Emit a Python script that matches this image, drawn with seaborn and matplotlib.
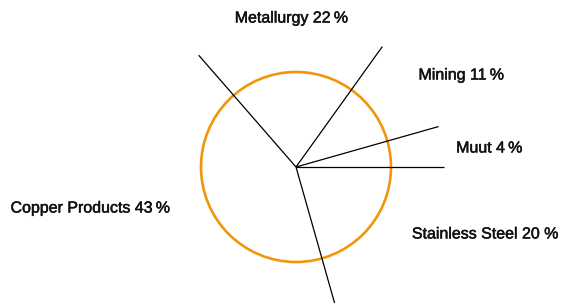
import numpy as np
import matplotlib
matplotlib.use("Agg")
import matplotlib.pyplot as plt
import matplotlib.patheffects as pe
from matplotlib.patches import Circle
import seaborn as sns

# segments, counter-clockwise from 3 o'clock
categories = ["Muut", "Mining", "Metallurgy", "Copper Products", "Stainless Steel"]
shares = [4.4, 10.7, 21.3, 43.0, 20.6]       # share used for the wedge geometry
share_labels = [4, 11, 22, 43, 20]           # rounded numbers printed in the labels
pct_gap = ["\u2009", "\u2009", "\u2009", "\u2009", " "]  # space before % as in source

sns.set_style("white")
plt.rcParams["font.family"] = ["Liberation Sans", "DejaVu Sans"]

fig = plt.figure(figsize=(5.61, 3.03), dpi=100)
ax = fig.add_axes([0, 0, 1, 1])

# 1 data unit = circle radius (95 px), centre at (296, 167) px
ax.set_xlim(-296 / 95, (561 - 296) / 95)
ax.set_ylim(-(303 - 167) / 95, 167 / 95)
ax.set_aspect("equal")
ax.axis("off")

# orange ring
ax.add_patch(Circle((0, 0), 1.0, fill=False, edgecolor="#F0960A", linewidth=1.9, zorder=1))

# black spokes on each wedge boundary, running past the ring
frac = np.array(shares) / np.sum(shares)
bounds = np.concatenate([[0], np.cumsum(frac)]) * 2 * np.pi
spoke_len = 1.56
for a in bounds[:-1]:
    ax.plot([0, spoke_len * np.cos(a)], [0, spoke_len * np.sin(a)],
            color="black", linewidth=0.9, zorder=2, solid_capstyle="butt")

# label placement (text centres, in radius units)
label_pos = {
    "Muut": (2.037, 0.20),
    "Mining": (1.742, 0.968),
    "Metallurgy": (-0.047, 1.568),
    "Copper Products": (-2.163, -0.432),
    "Stainless Steel": (1.995, -0.705),
}
for cat, p, gap in zip(categories, share_labels, pct_gap):
    x, y = label_pos[cat]
    ax.text(x, y, f"{cat} {p}{gap}%", ha="center", va="center",
            fontsize=11.5, color="#111111",
            path_effects=[pe.withStroke(linewidth=0.35, foreground="#111111")])

fig.savefig("out.png", dpi=100)
